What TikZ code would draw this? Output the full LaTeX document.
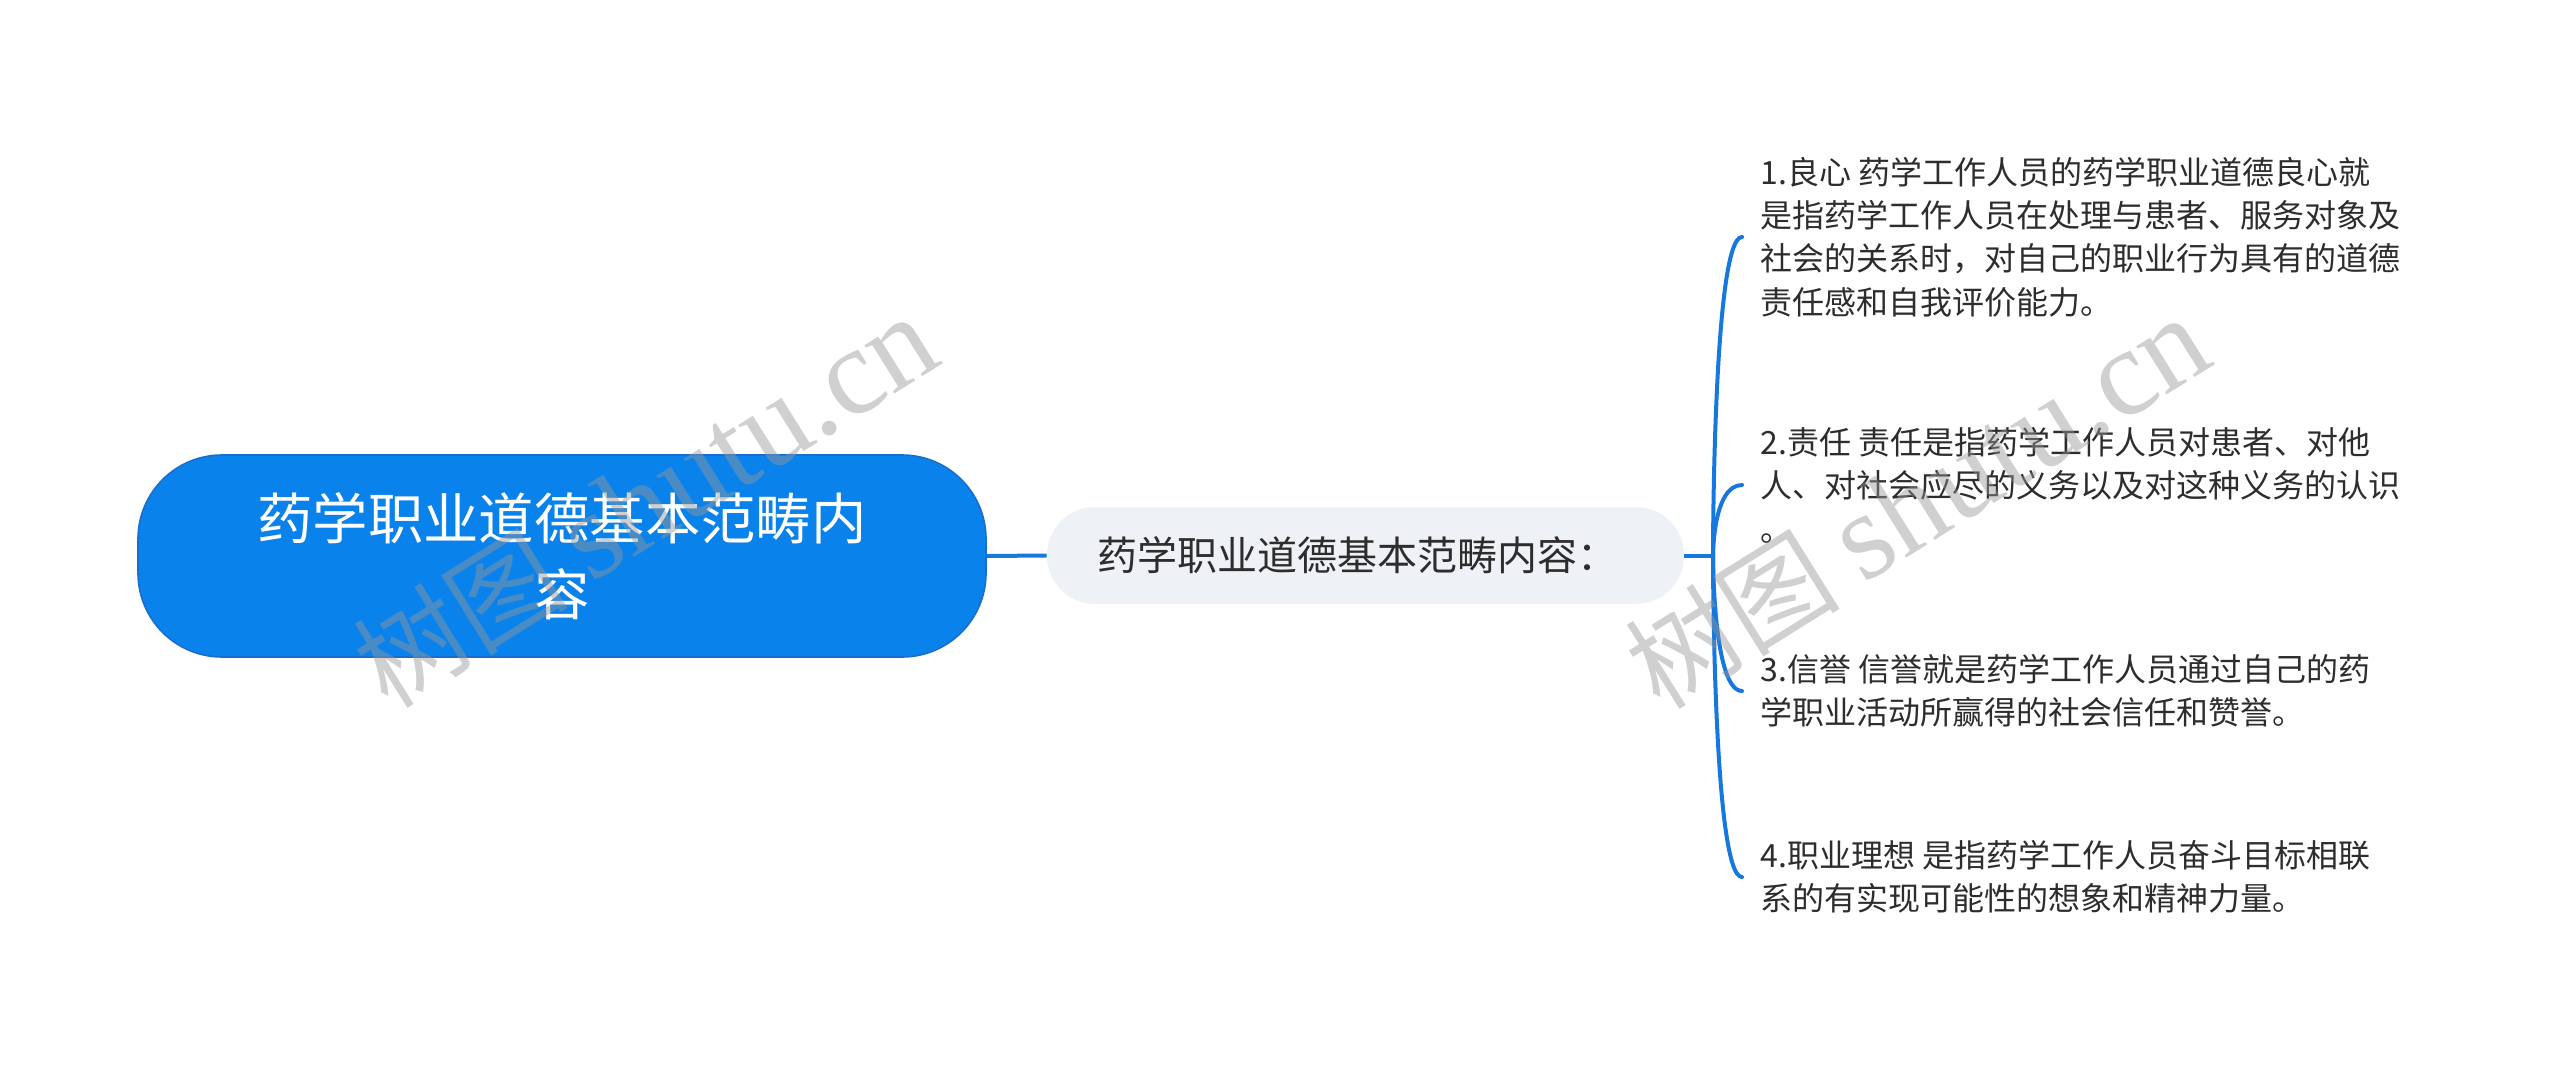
\documentclass[tikz,border=0pt]{standalone}
\usepackage{fontspec}
\setmainfont{Noto Sans CJK SC}
\newfontfamily\wmlatin{Liberation Serif}
\usetikzlibrary{calc}
\definecolor{rootblue}{RGB}{10,130,236}
\definecolor{rootedge}{RGB}{25,110,205}
\definecolor{linkblue}{RGB}{22,120,222}
\definecolor{childfill}{RGB}{238,241,245}
\definecolor{txt}{RGB}{45,45,45}
\definecolor{wm}{RGB}{150,150,150}
\begin{document}
\begin{tikzpicture}[x=0.5pt,y=-0.5pt,
 rootbox/.style={draw=rootedge, line width=0.8pt, fill=rootblue, rounded corners=42pt,
   minimum width=424pt, minimum height=101pt, text=white,
   font=\fontsize{27.7}{38}\selectfont, align=center, inner sep=0pt},
 childbox/.style={fill=childfill, rounded corners=24pt, minimum height=48.5pt,
   text width=268.5pt, inner xsep=25pt, inner ysep=0pt, align=left, text=txt,
   font=\fontsize{20}{24}\selectfont},
 leaf/.style={anchor=west, align=left, inner sep=0pt, text=txt,
   font=\fontsize{16}{21.7}\selectfont},
 link/.style={draw=linkblue, line width=2pt},
 watermark/.style={text=wm, text opacity=0.45, rotate=32,
   font=\fontsize{54}{54}\selectfont, inner sep=0pt}
]
\useasboundingbox (0,0) rectangle (2560,1070);
\node[rootbox] (root) at (562,556) {药学职业道德基本范畴内\\容};
\node[childbox] (child) at (1365.5,555.5) {药学职业道德基本范畴内容：};
\coordinate (J) at (1713,555.5);
\node[leaf] (l1) at (1760,237) {1.良心 药学工作人员的药学职业道德良心就\\是指药学工作人员在处理与患者、服务对象及\\社会的关系时，对自己的职业行为具有的道德\\责任感和自我评价能力。};
\node[leaf] (l2) at (1760,485) {2.责任 责任是指药学工作人员对患者、对他\\人、对社会应尽的义务以及对这种义务的认识\\。};
\node[leaf] (l3) at (1760,691) {3.信誉 信誉就是药学工作人员通过自己的药\\学职业活动所赢得的社会信任和赞誉。};
\node[leaf] (l4) at (1760,877) {4.职业理想 是指药学工作人员奋斗目标相联\\系的有实现可能性的想象和精神力量。};
\coordinate (e1) at ($(l1.west)+(-18,0)$);
\coordinate (e2) at ($(l2.west)+(-18,0)$);
\coordinate (e3) at ($(l3.west)+(-18,0)$);
\coordinate (e4) at ($(l4.west)+(-18,0)$);
\draw[link] (root.east) -- (child.west);
\draw[link] (child.east) -- (J);
\foreach \e in {e1,e2,e3,e4}
  \draw[link, line cap=round] (J) .. controls (J) and (J |- \e) .. (\e);
\node[watermark] (wm1) at (645,502) {树图 {\wmlatin\fontsize{62}{62}\selectfont shutu.cn}};
\node[watermark] (wm2) at (1917,503) {树图 {\wmlatin\fontsize{62}{62}\selectfont shutu.cn}};
\end{tikzpicture}
\end{document}
